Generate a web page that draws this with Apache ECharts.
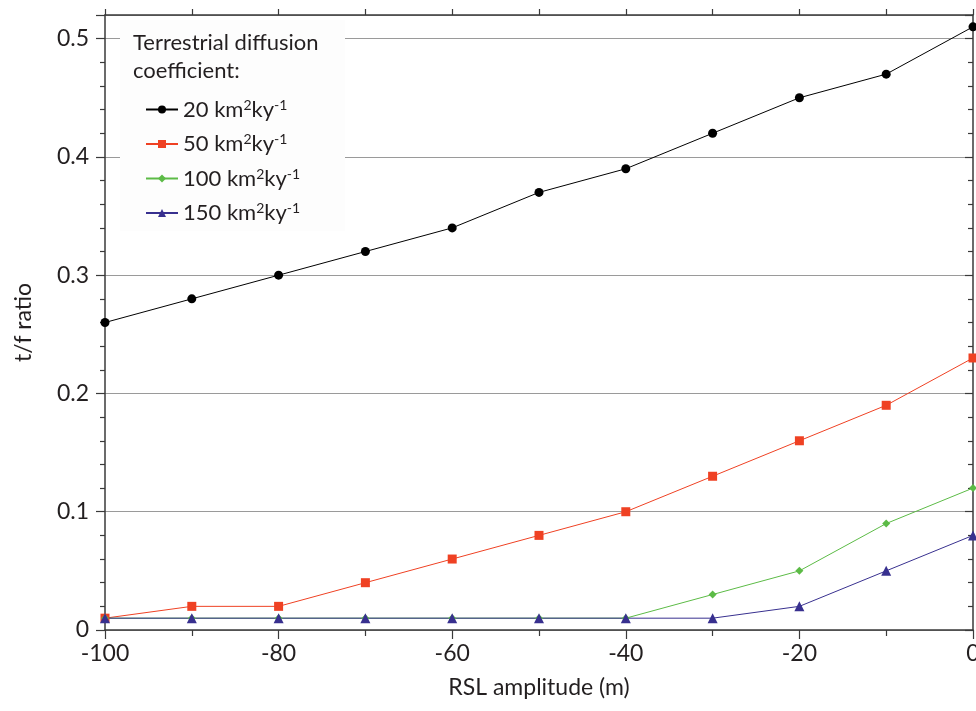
<!DOCTYPE html>
<html><head><meta charset="utf-8">
<script src="https://cdn.jsdelivr.net/npm/echarts@6/dist/echarts.min.js"></script>
<style>html,body{margin:0;padding:0;background:#fff}#c{width:976px;height:711px}</style>
</head><body><div id="c"></div>
<script>
var xValues = [-100, -90, -80, -70, -60, -50, -40, -30, -20, -10, 0];
var d20  = [0.26, 0.28, 0.30, 0.32, 0.34, 0.37, 0.39, 0.42, 0.45, 0.47, 0.51];
var d50  = [0.01, 0.02, 0.02, 0.04, 0.06, 0.08, 0.10, 0.13, 0.16, 0.19, 0.23];
var d100 = [0.01, 0.01, 0.01, 0.01, 0.01, 0.01, 0.01, 0.03, 0.05, 0.09, 0.12];
var d150 = [0.01, 0.01, 0.01, 0.01, 0.01, 0.01, 0.01, 0.01, 0.02, 0.05, 0.08];
var seriesNames = ['20', '50', '100', '150'];
var legendTitle = 'Terrestrial diffusion\ncoefficient:';
var xName = 'RSL amplitude (m)';
var yName = 't/f ratio';

function pairs(arr){ return xValues.map(function(x,i){ return [x, arr[i]]; }); }
var FONT = 'Lato';
var TXT = '#231f20';
var AX = '#3a3a3a';

var chart = echarts.init(document.getElementById('c'), null, {renderer:'canvas'});
function mk(name, data, color, symbol, size){
  return {name:name, type:'line', xAxisIndex:0, yAxisIndex:0, data:pairs(data), symbol:symbol, symbolSize:size,
    lineStyle:{color:color, width:1}, itemStyle:{color:color}, showSymbol:true, animation:false, z:3};
}
chart.setOption({
  animation:false,
  textStyle:{fontFamily:FONT},
  grid:{left:105, right:3, top:15, bottom:81, containLabel:false, outerBoundsMode:'none'},
  graphic:[{type:'rect', shape:{x:120, y:20, width:225, height:211}, style:{fill:'#fdfdfd'}, z:2}],
  title:{text:legendTitle, left:128, top:24, textStyle:{fontFamily:FONT, fontSize:22, fontWeight:'normal', color:TXT, lineHeight:28}},
  legend:{orient:'vertical', left:140, top:93, itemWidth:32, itemHeight:10, itemGap:12,
    data:seriesNames, selectedMode:false,
    formatter:function(n){ return '{n|'+n+' km}{s|2}{n|ky}{s|-1}'; },
    textStyle:{fontFamily:FONT, color:TXT, fontSize:22, rich:{n:{fontSize:22, fontFamily:FONT, color:TXT, lineHeight:23}, s:{fontSize:14, fontFamily:FONT, color:TXT, verticalAlign:'top', lineHeight:23}}}},
  xAxis:[
    {type:'value', position:'bottom', min:-100, max:0, interval:20,
     name:xName, nameLocation:'middle', nameGap:46, nameTextStyle:{fontFamily:FONT, fontSize:23, color:TXT},
     axisLine:{show:true, onZero:false, lineStyle:{color:AX, width:1.5}},
     axisTick:{show:true, inside:false, length:9, lineStyle:{color:AX, width:1.2}},
     minorTick:{show:true, splitNumber:2, length:6, lineStyle:{color:AX, width:1.2}},
     axisLabel:{fontFamily:FONT, fontSize:23, color:TXT, margin:12},
     splitLine:{show:false}},
    {type:'value', position:'top', min:-100, max:0, interval:10,
     axisLine:{show:true, onZero:false, lineStyle:{color:AX, width:1.5}},
     axisTick:{show:true, inside:false, length:6, lineStyle:{color:AX, width:1.2}},
     axisLabel:{show:false}, splitLine:{show:false}}
  ],
  yAxis:[
    {type:'value', position:'left', min:0, max:0.52, interval:0.1,
     name:yName, nameLocation:'middle', nameGap:70, nameRotate:90, nameTextStyle:{fontFamily:FONT, fontSize:23, color:TXT},
     axisLine:{show:true, onZero:false, lineStyle:{color:AX, width:1.5}},
     axisTick:{show:true, inside:false, length:9, lineStyle:{color:AX, width:1.2}},
     minorTick:{show:true, splitNumber:5, length:5, lineStyle:{color:AX, width:1.2}},
     axisLabel:{fontFamily:FONT, fontSize:23, color:TXT, margin:16, showMaxLabel:false},
     splitLine:{show:true, lineStyle:{color:'#9a9a9a', width:1.2}}},
    {type:'value', position:'right', min:0, max:0.52, interval:0.1,
     axisLine:{show:true, onZero:false, lineStyle:{color:AX, width:1.5}},
     axisTick:{show:true, inside:true, length:8, lineStyle:{color:AX, width:1.2}},
     minorTick:{show:true, splitNumber:5, length:5, lineStyle:{color:AX, width:1.2}},
     axisLabel:{show:false}, splitLine:{show:false}}
  ],
  series:[
    mk('20', d20, '#000000', 'circle', 9),
    mk('50', d50, '#ef4123', 'rect', 9),
    mk('100', d100, '#5cbb46', 'diamond', 8),
    mk('150', d150, '#38308f', 'triangle', 10)
  ]
});
</script></body></html>
